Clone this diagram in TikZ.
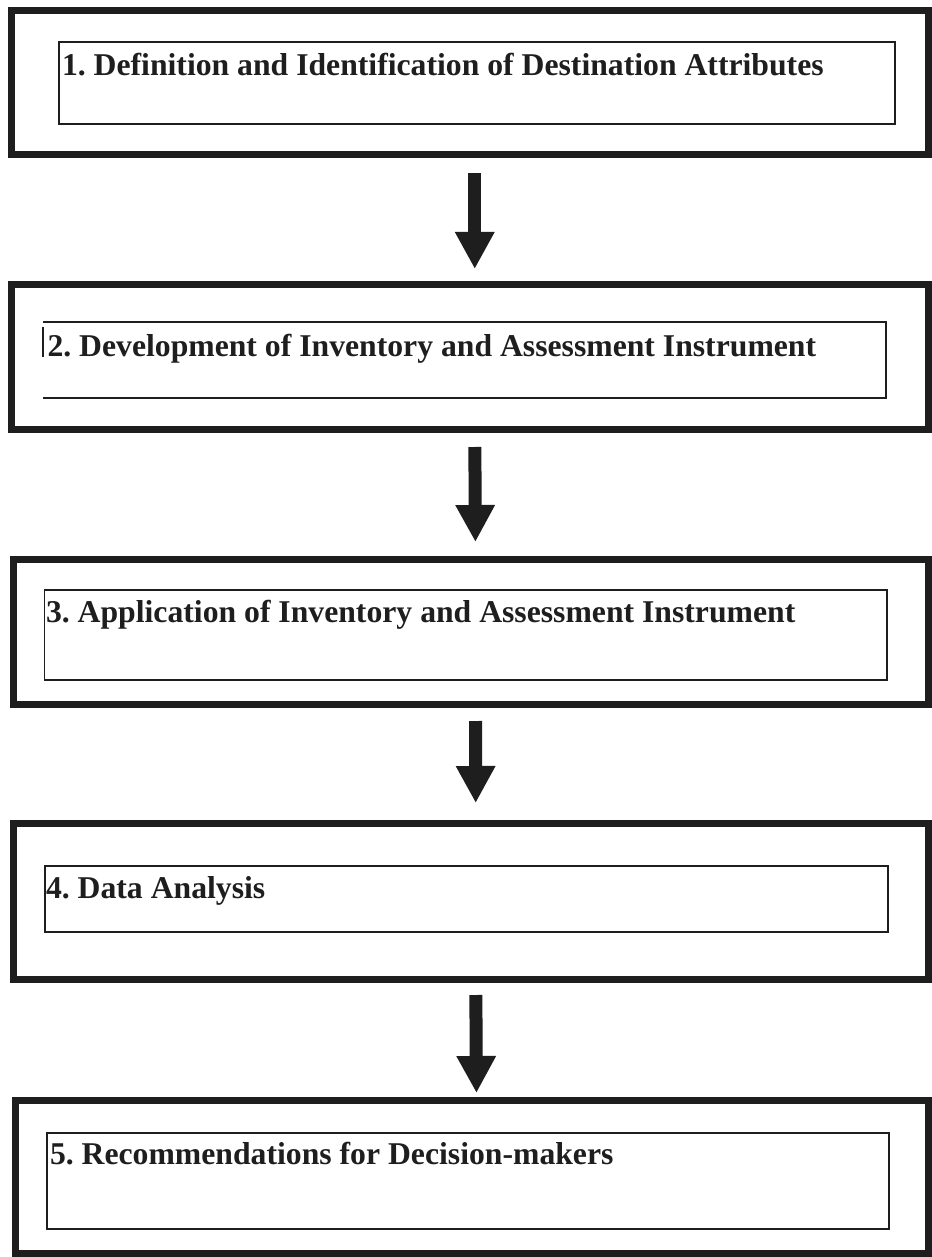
\documentclass[tikz,border=0pt]{standalone}
\usepackage{fontspec}
\setmainfont{Liberation Serif}
\usetikzlibrary{arrows.meta}
\definecolor{ink}{HTML}{1E1E1E}
\frenchspacing
\tikzset{
  outerbox/.style={draw=ink, line width=7pt, inner sep=0pt, outer sep=0pt, anchor=north west},
  innerbox/.style={draw=ink, line width=1.8pt, inner sep=0pt, outer sep=0pt, anchor=north west},
  innerfree/.style={inner sep=0pt, outer sep=0pt, anchor=north west},
  innerline/.style={draw=ink, line width=1.8pt},
  steptext/.style={anchor=base west, inner sep=0pt, outer sep=0pt, text=ink,
    font=\fontsize{31.7}{36}\selectfont\bfseries},
  bigarrow/.style={draw=ink, line width=13pt, -{Triangle[width=37pt,length=37pt]}}
}
\begin{document}
\begin{tikzpicture}[x=1pt,y=-1pt]
\useasboundingbox[fill=white] (0,0) rectangle (931,1257);

% outer boxes
\node[outerbox, minimum width=916.5pt, minimum height=144pt] (o1) at (11.5,10.5) {};
\node[outerbox, minimum width=916.5pt, minimum height=145pt] (o2) at (11.5,284.5) {};
\node[outerbox, minimum width=915pt, minimum height=145.5pt] (o3) at (13,559) {};
\node[outerbox, minimum width=914.5pt, minimum height=156pt] (o4) at (13.5,823.5) {};
\node[outerbox, minimum width=913pt, minimum height=153.5pt] (o5) at (15,1100) {};

% inner boxes
\node[innerbox, minimum width=836pt, minimum height=82pt] (i1) at (59,42) {};
\node[innerfree, minimum width=843pt, minimum height=76pt] (i2) at (43,322) {};
\draw[innerline] (i2.north west) -- (i2.north east) -- (i2.south east) -- (i2.south west);
\draw[draw=ink, line width=2.6pt] ([yshift=-5pt]i2.north west) -- ([yshift=-35pt]i2.north west);
\node[innerbox, minimum width=842.5pt, minimum height=90pt] (i3) at (44.5,590) {};
\node[innerbox, minimum width=843pt, minimum height=66pt] (i4) at (45,866) {};
\node[innerbox, minimum width=842pt, minimum height=96pt] (i5) at (47,1133) {};

% texts
\node[steptext] (t1) at (62,76) {1. Definition and Identification of Destination Attributes};
\node[steptext] (t2) at (47.5,356) {2. Development of Inventory and Assessment Instrument};
\node[steptext] (t3) at (46,622) {3. Application of Inventory and Assessment Instrument};
\node[steptext] (t4) at (46,898) {4. Data Analysis};
\node[steptext] (t5) at (50,1164) {5. Recommendations for Decision-makers};

% arrows
\draw[bigarrow, shorten <=18.5pt, shorten >=15.5pt] ([xshift=5pt]o1.south) -- ([xshift=5pt]o2.north);
\draw[bigarrow, shorten <=17.5pt, shorten >=17pt] ([xshift=5pt]o2.south) -- ([xshift=5pt]o3.north);
\draw[bigarrow, shorten <=16.5pt, shorten >=20.5pt] ([xshift=5pt]o3.south) -- ([xshift=5pt]o4.north);
\draw[bigarrow, shorten <=15.5pt, shorten >=7pt] ([xshift=5pt]o4.south) -- ([xshift=5pt]o5.north);
\end{tikzpicture}
\end{document}
